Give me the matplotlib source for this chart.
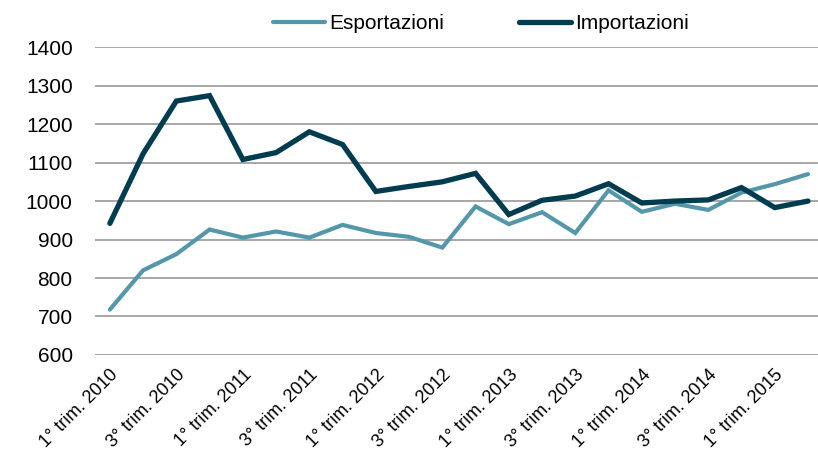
import matplotlib
matplotlib.use("Agg")
import matplotlib.pyplot as plt

quarters = []
for y in range(2010, 2016):
    for q in range(1, 5):
        quarters.append(f"{q}° trim. {y}")
quarters = quarters[:22]

esportazioni = [718, 820, 862, 926, 905, 921, 905, 938, 917, 907, 879, 986,
                940, 971, 917, 1028, 972, 993, 977, 1022, 1044, 1070]
importazioni = [942, 1123, 1260, 1274, 1108, 1126, 1180, 1147, 1025, 1038, 1050, 1072,
                965, 1002, 1013, 1045, 995, 1000, 1003, 1035, 983, 1000]

plt.rcParams["font.family"] = ["Liberation Sans", "DejaVu Sans"]

fig = plt.figure(figsize=(8.18, 4.58), dpi=100)
ax = fig.add_axes([0.116, 0.225, 0.884, 0.672])

x = list(range(len(quarters)))
ax.plot(x, esportazioni, color="#5497AA", lw=3.0, label="Esportazioni", solid_capstyle="round", solid_joinstyle="miter")
ax.plot(x, importazioni, color="#003C50", lw=3.8, label="Importazioni", solid_capstyle="round", solid_joinstyle="miter")

ax.set_ylim(600, 1400)
ax.set_xlim(-0.45, 21.3)
ax.set_yticks(range(600, 1401, 100))
ax.yaxis.grid(True, color="#A0A0A0", lw=1.3)
ax.set_axisbelow(True)
for s in ax.spines.values():
    s.set_visible(False)
ax.tick_params(axis="both", length=0, colors="#000000")
ax.tick_params(axis="y", pad=16, labelsize=15)
ax.set_xticks(x[::2])
ax.set_xticklabels(quarters[::2], rotation=45, ha="right", rotation_mode="anchor", fontsize=13)
ax.tick_params(axis="x", pad=8)

ax.legend(loc="center", bbox_to_anchor=(0.534, 1.076), ncol=2, frameon=False,
          fontsize=15, handlelength=2.5, handletextpad=0.2, columnspacing=3.6)

fig.savefig("out.png", dpi=100)
